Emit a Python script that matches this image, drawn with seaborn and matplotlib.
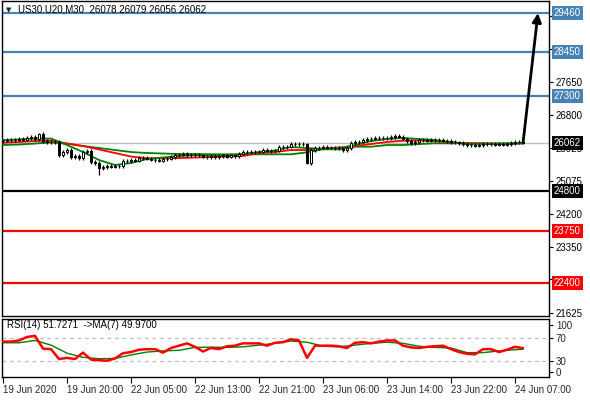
import numpy as np
import pandas as pd
import matplotlib
matplotlib.use("Agg")
import matplotlib.pyplot as plt
import seaborn as sns

# ---------------- data ----------------
symbol = "US30.U20,M30"
header_ohlc = [26078, 26079, 26056, 26062]

first_open = 26110
closes = [26126, 26152, 26139, 26152, 26165, 26152, 26191, 26217, 26165, 26296,
          26113, 26087, 26074, 26087, 25747, 25825, 25877, 25694, 25721, 25668,
          25825, 25851, 25564, 25538, 25407, 25433, 25459, 25446, 25459, 25459,
          25590, 25590, 25616, 25603, 25668, 25668, 25655, 25629, 25616, 25603,
          25642, 25655, 25694, 25747, 25760, 25773, 25747, 25734, 25747, 25734,
          25707, 25694, 25721, 25694, 25721, 25734, 25707, 25734, 25721, 25786,
          25838, 25825, 25825, 25838, 25838, 25877, 25864, 25851, 25864, 25956,
          25956, 25969, 26034, 26034, 26047, 26034, 25538, 25877, 25930, 25943,
          25956, 25943, 25943, 25930, 25917, 25877, 25930, 26061, 26087, 26100,
          26139, 26165, 26178, 26191, 26191, 26204, 26191, 26217, 26244, 26230,
          26178, 26113, 26061, 26087, 26139, 26139, 26126, 26152, 26139, 26139,
          26126, 26113, 26087, 26074, 26061, 26034, 26008, 26008, 25995, 26008,
          26034, 26047, 26034, 26021, 26034, 26021, 26034, 26061, 26087, 26074,
          26062]
wick = 40
long_lows = {14: 25700, 17: 25640, 22: 25510, 24: 25224, 76: 25500}
long_highs = {9: 26330, 76: 26060}

ma_bars = list(range(0, 129, 4)) + [130]
ma_fast = [26139, 26152, 26178, 26178, 26008, 25825, 25616, 25485, 25538, 25642,
           25681, 25721, 25747, 25734, 25734, 25773, 25825, 25864, 25956, 25930,
           25904, 25917, 26008, 26113, 26165, 26191, 26165, 26139, 26087, 26034,
           26034, 26034, 26047, 26061]
ma_mid = [26068, 26087, 26113, 26126, 26047, 25982, 25891, 25799, 25707, 25661,
          25661, 25668, 25681, 25694, 25707, 25721, 25799, 25825, 25877, 25877,
          25917, 25943, 25982, 26034, 26087, 26121, 26126, 26113, 26074, 26053,
          26047, 26034, 26047, 26053]
ma_slow = [26008, 26021, 26047, 26079, 26043, 25982, 25930, 25877, 25825, 25799,
           25786, 25773, 25773, 25765, 25765, 25765, 25765, 25765, 25765, 25817,
           25896, 25896, 25964, 25964, 26008, 26008, 26034, 26053, 26053, 26053,
           26053, 26053, 26053, 26053]

rsi_bars = list(range(0, 131, 2))
rsi = [63, 63, 65, 71, 73, 51, 50, 33, 35, 33,
       44, 32, 31, 30, 34, 43, 45, 49, 50, 50,
       44, 52, 56, 60, 54, 46, 52, 50, 55, 56,
       60, 60, 60, 56, 61, 62, 67, 65, 35, 56,
       56, 56, 55, 52, 61, 62, 60, 63, 65, 65,
       56, 53, 52, 54, 55, 56, 50, 45, 42, 41,
       50, 50, 45, 49, 54, 51.7]
rsi_ma = [61, 61, 65, 57, 43, 36, 33.5, 34, 40, 45,
          47, 48, 53, 53.5, 53, 54, 57, 60, 64, 62,
          55, 54, 57, 60, 62, 60, 55, 53, 52, 44,
          44, 47, 49, 49.97]
rsi_period, rsi_ma_period = 14, 7
rsi_last, rsi_ma_last = 51.7271, 49.9700

levels_blue = [29460, 28450, 27300]
levels_black = [24800]
levels_red = [23750, 22400]
bid = 26062
price_ticks = [29375, 28525, 27650, 26800, 25925, 25075, 24200, 23350, 22500, 21625]
hidden_ticks = [28525, 22500]   # fully covered by the level boxes in the reference
arrow_end_bar = 133.75

time_label_bars = [0, 16, 32, 48, 64, 80, 96, 112, 128]
time_labels = ["19 Jun 2020", "19 Jun 20:00", "22 Jun 05:00", "22 Jun 13:00",
               "22 Jun 21:00", "23 Jun 06:00", "23 Jun 14:00", "23 Jun 22:00",
               "24 Jun 07:00"]

# ---------------- style ----------------
sns.set_theme(style="white")
plt.rcParams["font.family"] = ["Liberation Sans", "DejaVu Sans"]
FS = 7.0
BLUE = "#4682B4"
GREEN = "#008000"
RED = "#FF0000"

fig = plt.figure(figsize=(5.9, 4.0), dpi=100)
W, H = 590, 400
ax = fig.add_axes([2 / W, 84 / H, 547 / W, 315 / H])
rax = fig.add_axes([2 / W, 23 / H, 547 / W, 58 / H])

for a in (ax, rax):
    a.set_facecolor("white")
    for s in a.spines.values():
        s.set_color("black")
        s.set_linewidth(1.0)
    a.set_xlim(-0.25, 136.5)

ax.set_ylim(21537, 29774)
rax.set_ylim(2, 102)

# ---------------- main chart ----------------
bars = np.arange(len(closes))
opens = [first_open] + closes[:-1]
df = pd.DataFrame({"bar": bars, "open": opens, "close": closes})
df["high"] = df[["open", "close"]].max(axis=1) + wick
df["low"] = df[["open", "close"]].min(axis=1) - wick
for b, v in long_lows.items():
    df.loc[b, "low"] = v
for b, v in long_highs.items():
    df.loc[b, "high"] = v

ax.axhline(bid, color="#C0C0C0", lw=1.0, zorder=1)
for lv in levels_blue:
    ax.axhline(lv, color=BLUE, lw=1.6, zorder=2)
for lv in levels_black:
    ax.axhline(lv, color="black", lw=1.6, zorder=2)
for lv in levels_red:
    ax.axhline(lv, color=RED, lw=1.6, zorder=2)

ma_df = pd.DataFrame({"bar": ma_bars, "fast": ma_fast, "mid": ma_mid, "slow": ma_slow})
sns.lineplot(data=ma_df, x="bar", y="slow", ax=ax, color=GREEN, lw=1.3,
             estimator=None, sort=False, legend=False, zorder=3)
sns.lineplot(data=ma_df, x="bar", y="mid", ax=ax, color=RED, lw=1.3,
             estimator=None, sort=False, legend=False, zorder=3)
sns.lineplot(data=ma_df, x="bar", y="fast", ax=ax, color=GREEN, lw=1.3,
             estimator=None, sort=False, legend=False, zorder=3)

up = df["close"] >= df["open"]
ax.vlines(df["bar"], df["low"], df["high"], color="black", lw=0.9, zorder=4)
ax.bar(df["bar"][up], (df["close"] - df["open"])[up], bottom=df["open"][up],
       width=0.7, color="white", edgecolor="black", lw=0.7, zorder=5)
ax.bar(df["bar"][~up], (df["open"] - df["close"])[~up], bottom=df["close"][~up],
       width=0.7, color="black", edgecolor="black", lw=0.7, zorder=5)

ax.annotate("", xy=(arrow_end_bar, levels_blue[0]), xytext=(bars[-1], bid),
            arrowprops=dict(arrowstyle="-|>", color="black", lw=2.0,
                            mutation_scale=13, shrinkA=0, shrinkB=0),
            zorder=6)

ax.set_xticks([])
ax.yaxis.tick_right()
ax.set_yticks(price_ticks)
ax.set_yticklabels(["" if t in hidden_ticks else str(t) for t in price_ticks])
ax.tick_params(axis="y", direction="out", length=3, width=0.8, color="black",
               labelsize=FS, pad=2, labelcolor="black")
ax.set_xlabel("")
ax.set_ylabel("")

def price_box(val, fc):
    ax.annotate(str(val), xy=(1.0, val), xycoords=("axes fraction", "data"),
                xytext=(3.5, 0), textcoords="offset points", ha="left", va="center",
                fontsize=FS, color="white", annotation_clip=False, zorder=10,
                bbox=dict(boxstyle="square,pad=0.2", fc=fc, ec="none"))

for lv in levels_blue:
    price_box(lv, BLUE)
price_box(bid, "black")
for lv in levels_black:
    price_box(lv, "black")
for lv in levels_red:
    price_box(lv, RED)

fig.text(6 / W, 1 - 10 / H, "\u25BC", fontsize=5, va="center", ha="left",
         family=["DejaVu Sans"])
fig.text(18 / W, 1 - 10 / H,
         f"{symbol}  " + " ".join(str(v) for v in header_ohlc),
         fontsize=FS, va="center", ha="left", color="black")

# ---------------- RSI ----------------
rax.axhline(70, color="#C0C0C0", lw=0.9, ls=(0, (3, 3)), zorder=1)
rax.axhline(30, color="#C0C0C0", lw=0.9, ls=(0, (3, 3)), zorder=1)
rsi_df = pd.DataFrame({"bar": rsi_bars, "rsi": rsi})
rma_df = pd.DataFrame({"bar": ma_bars, "ma": rsi_ma})
sns.lineplot(data=rma_df, x="bar", y="ma", ax=rax, color=GREEN, lw=1.0,
             estimator=None, sort=False, legend=False, zorder=2)
sns.lineplot(data=rsi_df, x="bar", y="rsi", ax=rax, color=RED, lw=1.8,
             estimator=None, sort=False, legend=False, zorder=3)

rax.yaxis.tick_right()
rax.set_yticks([92, 70, 30, 11])
rax.set_yticklabels(["100", "70", "30", "0"])
rax.tick_params(axis="y", direction="out", length=3, width=0.8, color="black",
                labelsize=FS, pad=2)
rax.set_xticks(time_label_bars)
rax.set_xticklabels(time_labels, ha="left")
rax.tick_params(axis="x", direction="out", length=4, width=0.8, color="black",
                labelsize=FS, pad=2, bottom=True)
rax.set_xlabel("")
rax.set_ylabel("")
rax.text(0.009, 0.9, f"RSI({rsi_period}) {rsi_last:.4f}  ->MA({rsi_ma_period}) {rsi_ma_last:.4f}",
         transform=rax.transAxes, fontsize=FS, va="center", ha="left", color="black")

fig.savefig("out.png", dpi=100)
